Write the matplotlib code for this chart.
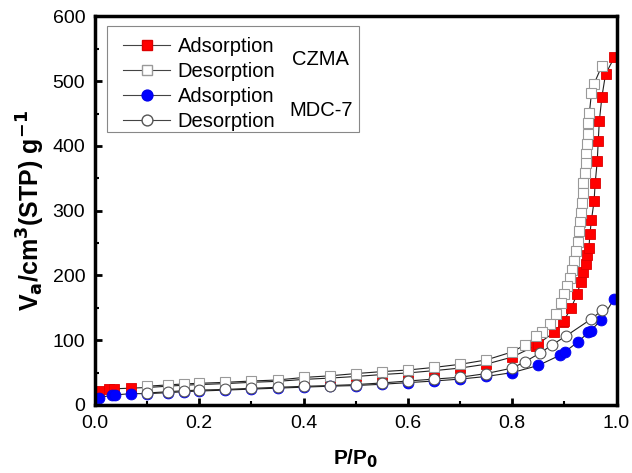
import matplotlib
matplotlib.use('Agg')
import matplotlib.pyplot as plt
from matplotlib.lines import Line2D
from matplotlib.patches import Rectangle
from matplotlib.ticker import MultipleLocator, FormatStrFormatter

plt.rcParams['font.family'] = ['Liberation Sans', 'DejaVu Sans']

# CZMA adsorption
p_czma_ads = [0.008, 0.027, 0.037, 0.069, 0.10, 0.14, 0.17, 0.20, 0.25, 0.30, 0.35,
              0.40, 0.45, 0.50, 0.55, 0.60, 0.65, 0.70, 0.75, 0.80, 0.845, 0.849,
              0.880, 0.897, 0.899, 0.913, 0.925, 0.931, 0.936, 0.941, 0.944, 0.947,
              0.949, 0.952, 0.957, 0.959, 0.963, 0.965, 0.967, 0.972, 0.979, 0.996]
v_czma_ads = [21, 24, 25, 26, 27, 29, 30.5, 31.5, 33, 35, 36.5,
              39.5, 41.5, 44, 47, 49.5, 53, 57, 63, 74, 91.6, 94,
              112, 128, 130, 150, 172, 190, 205, 218, 231, 242,
              264, 286, 315, 342, 376, 408, 438, 476, 511, 537]

# CZMA desorption
p_czma_des = [0.972, 0.957, 0.952, 0.948, 0.946, 0.945, 0.943, 0.942, 0.941, 0.940,
              0.936, 0.935, 0.934, 0.932, 0.930, 0.928, 0.926, 0.923, 0.919, 0.915,
              0.911, 0.906, 0.900, 0.893, 0.884, 0.872, 0.858, 0.846, 0.825, 0.80,
              0.75, 0.70, 0.65, 0.60, 0.55, 0.50, 0.45, 0.40, 0.35, 0.30, 0.25,
              0.20, 0.17, 0.14, 0.10]
v_czma_des = [524, 496, 482, 451, 436, 418, 403, 388, 373, 358,
              342, 327, 312, 296, 282, 268, 252, 237, 223, 209,
              196, 183, 171, 157, 140, 125, 113, 106, 93, 82,
              69.5, 62.8, 58, 54, 51.5, 48.5, 45, 42.5, 38.6, 37, 35,
              33.5, 32.5, 31, 29]

# MDC-7 adsorption
p_mdc_ads = [0.008, 0.032, 0.038, 0.069, 0.10, 0.14, 0.17, 0.20, 0.25, 0.30, 0.35,
             0.40, 0.45, 0.50, 0.55, 0.60, 0.65, 0.70, 0.75, 0.80, 0.85, 0.892,
             0.901, 0.927, 0.946, 0.951, 0.970, 0.995]
v_mdc_ads = [11.5, 15, 15.5, 17.5, 17.5, 19, 20.5, 21.5, 23, 24.5, 26,
             27.5, 29, 30, 32, 34.5, 37, 40, 44, 50, 61, 77,
             82, 98, 112, 115, 131, 163]

# MDC-7 desorption
p_mdc_des = [0.972, 0.952, 0.904, 0.877, 0.853, 0.825, 0.80, 0.75, 0.70, 0.65,
             0.60, 0.55, 0.50, 0.45, 0.40, 0.35, 0.30, 0.25, 0.20, 0.17, 0.14, 0.10]
v_mdc_des = [146, 133, 107, 93, 80, 67, 57, 48.5, 42.8, 40,
             37, 34, 31.5, 30, 28.8, 27.3, 25.7, 24, 23, 22, 20.5, 18.5]

fig = plt.figure(figsize=(6.32, 4.73), dpi=100)
ax = fig.add_axes([0.1503, 0.1438, 0.8252, 0.8215])

line_kw = dict(color='#222222', lw=0.8)
ax.plot(p_czma_ads, v_czma_ads, marker='s', ms=6.8, mfc='#ff0000', mec='#dd0000', mew=0.6, **line_kw)
ax.plot(p_czma_des, v_czma_des, marker='s', ms=6.8, mfc='white', mec='#999999', mew=0.8, **line_kw)
ax.plot(p_mdc_ads, v_mdc_ads, marker='o', ms=7.8, mfc='#0000ff', mec='#0000ee', mew=0.6, **line_kw)
ax.plot(p_mdc_des, v_mdc_des, marker='o', ms=7.8, mfc='white', mec='#555555', mew=0.8, **line_kw)

ax.set_xlim(0, 1.0)
ax.set_ylim(0, 600)
ax.xaxis.set_major_locator(MultipleLocator(0.2))
ax.xaxis.set_minor_locator(MultipleLocator(0.1))
ax.yaxis.set_major_locator(MultipleLocator(100))
ax.yaxis.set_minor_locator(MultipleLocator(50))
ax.xaxis.set_major_formatter(FormatStrFormatter('%.1f'))
ax.tick_params(which='major', direction='in', length=5, width=2, labelsize=14, pad=7)
ax.tick_params(which='minor', direction='in', length=3, width=1.5)
for s in ax.spines.values():
    s.set_linewidth(2.5)

ax.set_xlabel('P/P$_\\mathbf{0}$', fontsize=15, fontweight='bold', labelpad=11)
ax.set_ylabel('V$_\\mathbf{a}$/cm$^\\mathbf{3}$(STP) g$^\\mathbf{-1}$', fontsize=18,
              fontweight='bold', labelpad=4)

# legend
handles = [
    Line2D([], [], marker='s', ms=6.8, mfc='#ff0000', mec='#dd0000', color='#444444', lw=0.8),
    Line2D([], [], marker='s', ms=6.8, mfc='white', mec='#999999', color='#444444', lw=0.8),
    Line2D([], [], marker='o', ms=7.8, mfc='#0000ff', mec='#0000ee', color='#444444', lw=0.8),
    Line2D([], [], marker='o', ms=7.8, mfc='white', mec='#555555', color='#444444', lw=0.8),
]
labels = ['Adsorption', 'Desorption', 'Adsorption', 'Desorption']
ax.legend(handles, labels, loc='upper left', bbox_to_anchor=(0.054, 0.947), frameon=False,
          fontsize=14.5, borderpad=0, borderaxespad=0, handlelength=2.35, handletextpad=0.35,
          labelspacing=0.3, numpoints=1)
ax.add_patch(Rectangle((0.023, 0.703), 0.483, 0.2725, transform=ax.transAxes,
                       fill=False, ec='#888888', lw=0.8, zorder=5))
ax.text(0.433, 0.888, 'CZMA', transform=ax.transAxes, fontsize=14.5, ha='center', va='center')
ax.text(0.433, 0.759, 'MDC-7', transform=ax.transAxes, fontsize=14.5, ha='center', va='center')

fig.savefig('out.png', dpi=100)
